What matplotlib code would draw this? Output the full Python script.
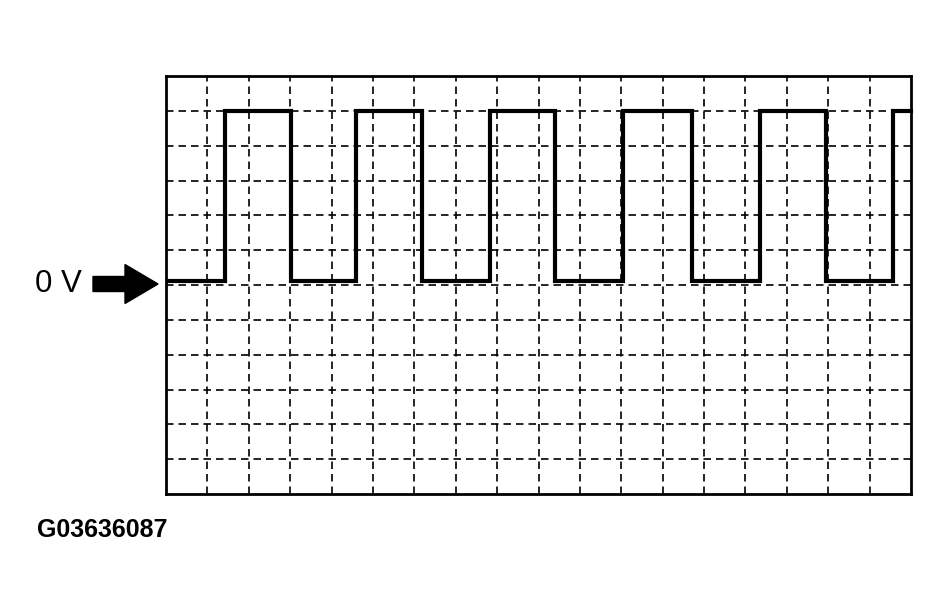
import matplotlib.pyplot as plt
from matplotlib.patches import FancyArrow

# grid is 18 x 12 divisions, 0 V sits on the 6th line from the bottom
n_cols = 18
n_rows = 12
zero_line = 6

# edge times in divisions (alternating rising / falling)
edge_times = [1.42, 3.02, 4.58, 6.18, 7.82, 9.41, 11.03, 12.72, 14.36, 15.95, 17.57]
low_level = 0.12   # divisions above the 0 V line
high_level = 5.0
t_start = 0.05
t_end = 18.0

fig = plt.figure(figsize=(9.5, 6.15), dpi=100)
ax = fig.add_axes([166 / 950, 1 - 494 / 615, 745 / 950, 418 / 615])
ax.set_xlim(0, n_cols)
ax.set_ylim(0, n_rows)

# dashed grid
for i in range(1, n_cols):
    ax.axvline(i, color="black", lw=1.2, ls=(0, (4.5, 3)), zorder=1)
for j in range(1, n_rows):
    ax.axhline(j, color="black", lw=1.2, ls=(0, (4.5, 3)), zorder=1)

# build square wave from the edges
xs = [t_start]
ys = [zero_line + low_level]
level = low_level
for t in edge_times:
    xs.append(t)
    ys.append(zero_line + level)
    level = high_level if level == low_level else low_level
    xs.append(t)
    ys.append(zero_line + level)
xs.append(t_end)
ys.append(zero_line + level)
ax.plot(xs, ys, color="black", lw=3.0, solid_joinstyle="miter", zorder=3, clip_on=False)

ax.set_xticks([])
ax.set_yticks([])
for s in ax.spines.values():
    s.set_linewidth(2.0)
    s.set_color("black")

# 0 V label and arrow
fig.text(35 / 950, 1 - 284 / 615, "0 V", fontsize=22.5, family="Liberation Sans",
         ha="left", va="center")
arrow = FancyArrow(93 / 950, 1 - 284 / 615, 65 / 950, 0, width=15 / 615,
                   head_width=39 / 615, head_length=33 / 950,
                   length_includes_head=True, color="black", transform=fig.transFigure)
fig.patches.append(arrow)

fig.text(37 / 950, 1 - 530 / 615, "G03636087", fontsize=18, family="Liberation Sans",
         fontweight="bold", ha="left", va="center")

fig.savefig("out.png", dpi=100, facecolor="white")
